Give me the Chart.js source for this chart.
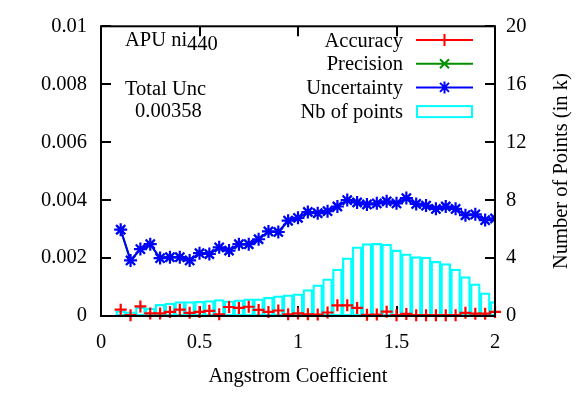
<!DOCTYPE html>
<html>
<head>
<meta charset="utf-8">
<script src="https://cdn.jsdelivr.net/npm/chart.js@4/dist/chart.umd.min.js"></script>
<style>
  html, body { margin: 0; padding: 0; background: #fff; }
  #wrap { width: 578px; height: 393px; }
</style>
</head>
<body>
<div id="wrap"><canvas id="c" width="578" height="393"></canvas></div>
<script>
// Angstrom coefficient bins
const angstrom = [0.10,0.15,0.20,0.25,0.30,0.35,0.40,0.45,0.50,0.55,0.60,0.65,0.70,0.75,0.80,0.85,0.90,0.95,1.00,1.05,1.10,1.15,1.20,1.25,1.30,1.35,1.40,1.45,1.50,1.55,1.60,1.65,1.70,1.75,1.80,1.85,1.90,1.95,2.00];

// Per-bin statistics (left axis)
const accuracy = [0.00022,0.00003,0.00033,0.00009,0.00009,0.00014,0.00022,0.00011,0.00014,0.00018,0.00006,0.00031,0.00028,0.00032,0.00021,0.00014,0.00019,0.00006,0.00009,0.00006,0.00005,0.00012,0.00037,0.00037,0.00028,0.00004,0.00005,0.00015,0.00003,0.00007,0.00003,0.00003,0.00003,0.00003,0.00003,0.00011,0.00008,0.00008,0.00014];
const precision = [0.00297,0.00191,0.00230,0.00247,0.00199,0.00202,0.00202,0.00191,0.00216,0.00213,0.00236,0.00225,0.00247,0.00247,0.00264,0.00291,0.00289,0.00328,0.00338,0.00358,0.00354,0.00361,0.00377,0.00399,0.00391,0.00384,0.00388,0.00395,0.00388,0.00406,0.00386,0.00380,0.00369,0.00377,0.00369,0.00347,0.00350,0.00330,0.00336];
const uncertainty = [0.00298,0.00192,0.00231,0.00248,0.00200,0.00203,0.00203,0.00192,0.00217,0.00214,0.00237,0.00226,0.00248,0.00248,0.00265,0.00292,0.00290,0.00329,0.00339,0.00359,0.00355,0.00362,0.00378,0.00400,0.00392,0.00385,0.00389,0.00396,0.00389,0.00407,0.00387,0.00381,0.00370,0.00378,0.00370,0.00348,0.00351,0.00331,0.00337];

// Number of points per bin, in thousands (right axis)
const nbPoints = [0.35,0.29,0.62,0.55,0.80,0.89,1.00,1.00,1.02,1.07,1.13,1.04,1.11,1.18,1.18,1.29,1.40,1.46,1.53,1.83,2.15,2.57,3.24,4.01,4.78,5.00,5.02,4.96,4.56,4.29,4.11,4.07,3.78,3.62,3.24,2.73,2.22,1.60,1.00];

// Axis ticks and labels
const xTicks = [0, 0.5, 1, 1.5, 2];
const xTickLabels = ['0', '0.5', '1', '1.5', '2'];
const yTicks = [0, 0.002, 0.004, 0.006, 0.008, 0.01];
const yTickLabels = ['0', '0.002', '0.004', '0.006', '0.008', '0.01'];
const y2Ticks = [0, 4, 8, 12, 16, 20];
const y2TickLabels = ['0', '4', '8', '12', '16', '20'];

const seriesNames = ['Accuracy', 'Precision', 'Uncertainty', 'Nb of points'];
const xTitle = 'Angstrom Coefficient';
const y2Title = 'Number of Points (in k)';
const totalUnc = '0.00358';

const RED = '#ff0000', GREEN = '#009000', BLUE = '#0000ff', CYAN = '#00ffff';
const FONT = '"Liberation Serif", "Times New Roman", serif';
const FSIZE = 20.5;

const pts = arr => arr.map((v, i) => ({ x: angstrom[i], y: v }));
const labelFrom = (vals, labels) => v => {
  const i = vals.findIndex(t => Math.abs(t - v) < 1e-9);
  return i >= 0 ? labels[i] : '';
};

// Inward tick marks and frame, gnuplot style
const framePlugin = {
  id: 'frame',
  beforeDatasetsDraw(chart) {
    const { ctx, chartArea: a, scales } = chart;
    ctx.save();
    ctx.strokeStyle = '#000';
    ctx.lineWidth = 2;
    ctx.beginPath();
    xTicks.forEach(v => {
      const px = Math.round(scales.x.getPixelForValue(v));
      ctx.moveTo(px, a.bottom); ctx.lineTo(px, a.bottom - 10);
      ctx.moveTo(px, a.top); ctx.lineTo(px, a.top + 10);
    });
    yTicks.forEach(v => {
      const py = Math.round(scales.y.getPixelForValue(v));
      ctx.moveTo(a.left, py); ctx.lineTo(a.left + 10, py);
    });
    y2Ticks.forEach(v => {
      const py = Math.round(scales.y1.getPixelForValue(v));
      ctx.moveTo(a.right, py); ctx.lineTo(a.right - 10, py);
    });
    ctx.stroke();
    ctx.restore();
  },
  afterDraw(chart) {
    const { ctx, chartArea: a } = chart;
    ctx.save();
    ctx.strokeStyle = '#000';
    ctx.lineWidth = 2;
    ctx.strokeRect(a.left, a.top, a.right - a.left, a.bottom - a.top);

    ctx.fillStyle = '#000';
    ctx.font = FSIZE + 'px ' + FONT;

    // Axis titles
    ctx.textAlign = 'center';
    ctx.textBaseline = 'middle';
    ctx.fillText(xTitle, (a.left + a.right) / 2, 377);
    ctx.save();
    ctx.translate(562, (a.top + a.bottom) / 2);
    ctx.rotate(-Math.PI / 2);
    ctx.fillText(y2Title, 0, 0);
    ctx.restore();

    // Annotations
    ctx.textAlign = 'left';
    ctx.textBaseline = 'alphabetic';
    const head = 'APU ni';
    ctx.fillText(head, 125, 46);
    const w = ctx.measureText(head).width;
    ctx.fillText('440', 125 + w, 50);
    ctx.fillText('Total Unc', 125, 95);
    ctx.fillText(totalUnc, 135, 117);

    // Key
    const rows = [40, 63.7, 87.4, 111.1];
    const x0 = 416, x1 = 473, xm = 444.5;
    ctx.textAlign = 'right';
    seriesNames.forEach((name, i) => {
      ctx.fillStyle = '#000';
      ctx.fillText(name, 403, rows[i] + 6.5);
    });
    ctx.lineWidth = 2;
    const cols = [RED, GREEN, BLUE];
    cols.forEach((c, i) => {
      const y = rows[i];
      ctx.strokeStyle = c;
      ctx.beginPath();
      ctx.moveTo(x0, y); ctx.lineTo(x1, y);
      const r = 6;
      if (i === 0 || i === 2) { ctx.moveTo(xm, y - r); ctx.lineTo(xm, y + r); }
      if (i === 1 || i === 2) {
        const d = r * 0.75;
        ctx.moveTo(xm - d, y - d); ctx.lineTo(xm + d, y + d);
        ctx.moveTo(xm - d, y + d); ctx.lineTo(xm + d, y - d);
      }
      ctx.stroke();
    });
    ctx.strokeStyle = CYAN;
    ctx.strokeRect(x0 + 1, rows[3] - 5, x1 - x0 - 2, 11);
    ctx.restore();
  }
};

new Chart(document.getElementById('c'), {
  type: 'bar',
  data: {
    datasets: [
      {
        type: 'line', label: seriesNames[2], data: pts(uncertainty), yAxisID: 'y',
        borderColor: BLUE, borderWidth: 2, pointStyle: 'star', pointRadius: 6.5,
        pointBorderColor: BLUE, pointBorderWidth: 2.2, pointBackgroundColor: BLUE,
        tension: 0, order: 1
      },
      {
        type: 'line', label: seriesNames[1], data: pts(precision), yAxisID: 'y',
        borderColor: GREEN, borderWidth: 2, pointStyle: 'crossRot', pointRadius: 6,
        pointBorderColor: GREEN, pointBorderWidth: 2, tension: 0, order: 2
      },
      {
        type: 'line', label: seriesNames[0], data: pts(accuracy), yAxisID: 'y',
        showLine: false, pointStyle: 'cross', pointRadius: 6,
        pointBorderColor: RED, pointBorderWidth: 2.2, borderColor: RED,
        clip: false, order: 3
      },
      {
        type: 'bar', label: seriesNames[3], data: pts(nbPoints), yAxisID: 'y1',
        backgroundColor: 'rgba(0,0,0,0)', borderColor: CYAN, borderWidth: 1.6,
        borderSkipped: false, barPercentage: 1, categoryPercentage: 1, order: 4
      }
    ]
  },
  options: {
    responsive: false,
    animation: false,
    events: [],
    layout: { padding: { top: 16, left: 0, right: 0, bottom: 0 } },
    plugins: { legend: { display: false }, tooltip: { enabled: false } },
    scales: {
      x: {
        type: 'linear', min: 0, max: 2, offset: false,
        grid: { display: false, drawTicks: false }, border: { display: false },
        afterBuildTicks: s => { s.ticks = xTicks.map(v => ({ value: v })); },
        afterFit: s => { s.height = 77; },
        ticks: { color: '#000', font: { family: FONT, size: FSIZE }, padding: 14,
                 maxRotation: 0, autoSkip: false, callback: labelFrom(xTicks, xTickLabels) }
      },
      y: {
        type: 'linear', position: 'left', min: 0, max: 0.01,
        grid: { display: false, drawTicks: false }, border: { display: false },
        afterBuildTicks: s => { s.ticks = yTicks.map(v => ({ value: v })); },
        afterFit: s => { s.width = 101; },
        ticks: { color: '#000', font: { family: FONT, size: FSIZE }, padding: 14,
                 autoSkip: false, callback: labelFrom(yTicks, yTickLabels) }
      },
      y1: {
        type: 'linear', position: 'right', min: 0, max: 20,
        grid: { display: false, drawTicks: false }, border: { display: false },
        afterBuildTicks: s => { s.ticks = y2Ticks.map(v => ({ value: v })); },
        afterFit: s => { s.width = 83; },
        ticks: { color: '#000', font: { family: FONT, size: FSIZE }, padding: 11,
                 autoSkip: false, callback: labelFrom(y2Ticks, y2TickLabels) }
      }
    }
  },
  plugins: [framePlugin]
});
</script>
</body>
</html>
